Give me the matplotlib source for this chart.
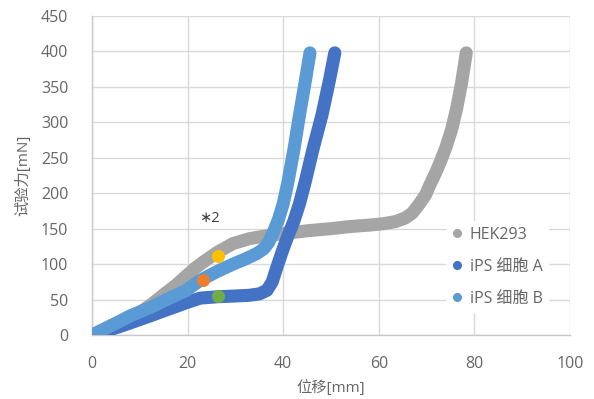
import matplotlib
matplotlib.use("Agg")
import matplotlib.pyplot as plt
from matplotlib.lines import Line2D

plt.rcParams['font.family'] = ['Open Sans', 'Noto Sans CJK SC', 'DejaVu Sans']

# ---- data ----
hek_x = [0, 1.5, 3, 5.4, 8, 10.5, 12.6, 15, 17.5, 19.5, 21.5, 23.5, 26.3, 29.5, 33, 36.6, 40, 45, 50, 54, 58,
         61, 63.5, 65.5, 67, 68.6, 69.8, 70.7, 71.7, 72.8, 74, 75.2, 76.3, 77.3, 78.3]
hek_y = [0, 3, 8, 15, 24, 34, 44, 57, 70, 82, 94, 104, 117, 129, 136, 140, 143, 147, 150, 153, 155,
         157, 160, 165, 172, 186, 198, 212, 226, 243, 264, 289, 320, 355, 398]

a_x = [0, 1.5, 3, 5.4, 8, 10.5, 12.6, 15, 17.5, 19.5, 22.6, 26.3, 30, 32.9, 35, 36.6, 37.7, 38.7, 39.8,
       41, 42.2, 43.4, 44.6, 46.3, 48.1, 49.6, 50.8]
a_y = [0, 3, 6, 11, 17, 23, 28, 34, 40, 45, 52, 54, 55, 56, 58, 63, 75, 96, 118,
       140, 160, 185, 216, 264, 310, 357, 398]

b_x = [0, 1.5, 3, 5.4, 8, 10.5, 12.6, 15, 17.5, 19.5, 22.6, 26.3, 29.5, 32, 34.5, 36, 37, 38, 39, 40,
       41, 42.3, 43.4, 44.6, 45.6]
b_y = [0, 5, 10, 18, 27, 34, 40, 48, 56, 62, 77, 90, 100, 107, 115, 122, 131, 146, 163, 185,
       216, 264, 310, 357, 398]

series_names = ['HEK293', 'iPS 细胞 A', 'iPS 细胞 B']
series_colors = ['#A5A5A5', '#4472C4', '#5B9BD5']

pts_x = [26.4, 23.2, 26.4]
pts_y = [112, 78, 55]
pts_colors = ['#FFC000', '#ED7D31', '#70AD47']

annot_text = '∗2'
annot_xy = (24.5, 165)

xticks = [0, 20, 40, 60, 80, 100]
yticks = list(range(0, 451, 50))

xlabel = '位移[mm]'
ylabel = '试验力[mN]'

# ---- figure ----
fig = plt.figure(figsize=(5.94, 3.99), dpi=100)
ax = fig.add_axes([92/594, 1-335/399, (570-92)/594, (335-16)/399])

text_c = '#666666'
grid_c = '#D9D9D9'

lw = 9.4
for xs, ys, c, z in zip([hek_x, a_x, b_x], [hek_y, a_y, b_y], series_colors, [2, 3, 4]):
    ax.plot(xs, ys, color=c, lw=lw, solid_capstyle='round', solid_joinstyle='round', zorder=z)

for x, y, c in zip(pts_x, pts_y, pts_colors):
    ax.plot([x], [y], 'o', color=c, ms=9.4, mec='none', zorder=6)

ax.text(annot_xy[0], annot_xy[1], annot_text, ha='center', va='center', color='#404040', fontsize=10.5, zorder=7)

ax.set_xlim(0, 100)
ax.set_ylim(0, 450)
ax.set_xticks(xticks)
ax.set_yticks(yticks)
ax.grid(True, color=grid_c, lw=1.0, zorder=0)
ax.set_axisbelow(True)
for s in ['top', 'right']:
    ax.spines[s].set_visible(False)
for s in ['left', 'bottom']:
    ax.spines[s].set_color('#C8C8C8')
    ax.spines[s].set_linewidth(1.0)
ax.tick_params(axis='both', length=0, labelcolor=text_c, labelsize=11.5)
ax.tick_params(axis='y', pad=17)
ax.tick_params(axis='x', pad=15)

ax.set_xlabel(xlabel, color=text_c, fontsize=11, va='center')
ax.set_ylabel(ylabel, color=text_c, fontsize=11, va='center')
ax.xaxis.set_label_coords(0.5, -(388-335)/(335-16), transform=ax.transAxes)
ax.yaxis.set_label_coords(-(92-23)/(570-92), 0.5, transform=ax.transAxes)

handles = [Line2D([], [], marker='o', ls='none', color=c, ms=5.5) for c in series_colors]
leg = ax.legend(handles, series_names, loc='center left', bbox_to_anchor=((438-92)/(570-92), (335-267)/(335-16)),
                frameon=True, facecolor='white', edgecolor='none', framealpha=1,
                fontsize=11.5, labelcolor=text_c, handlelength=0.6, handletextpad=0.5,
                labelspacing=1.0, borderpad=0.4, fancybox=False)
leg.set_zorder(10)

fig.savefig('out.png', dpi=100, facecolor='white')
